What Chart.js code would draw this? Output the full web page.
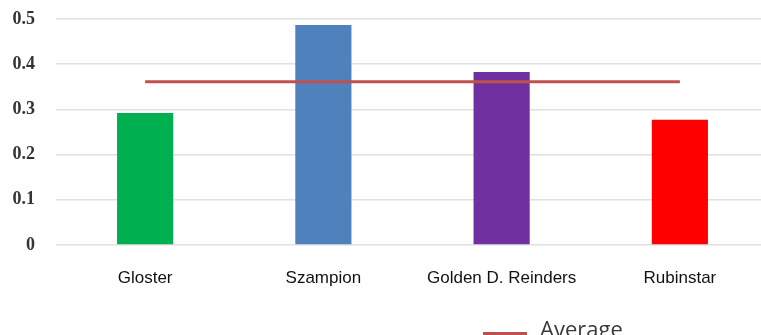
<!DOCTYPE html>
<html>
<head>
<meta charset="utf-8">
<script src="https://cdn.jsdelivr.net/npm/chart.js@4/dist/chart.umd.min.js"></script>
<style>
  html, body { margin: 0; padding: 0; background: #fff; }
  #wrap { position: relative; width: 761px; height: 335px; overflow: hidden; }
  #box { position: absolute; left: 0; top: 0; width: 769px; height: 335px; }
  #legend { position: absolute; left: 483px; top: 313px; font-family: "Open Sans", "Liberation Sans", sans-serif; font-size: 22px; color: #3a3a3a; white-space: nowrap; }
  #legend span.swatch { display: inline-block; width: 44px; height: 3px; background: #C0504D; vertical-align: middle; margin-right: 13px; position: relative; top: 2px; }
</style>
</head>
<body>
<div id="wrap">
  <div id="box"><canvas id="myChart"></canvas></div>
  <div id="legend"></div>
</div>
<script>
var categories = ['Gloster', 'Szampion', 'Golden D. Reinders', 'Rubinstar'];
var barValues = [0.292, 0.487, 0.383, 0.277];
var averageValues = [0.361, 0.361, 0.361, 0.361];
var yTicks = [0, 0.1, 0.2, 0.3, 0.4, 0.5];
var barColors = ['#00B050', '#4F81BD', '#7030A0', '#FF0000'];

var ctx = document.getElementById('myChart').getContext('2d');
var myChart = new Chart(ctx, {
    type: 'bar',
    data: {
        labels: categories,
        datasets: [{
            type: 'line',
            label: 'Average',
            data: averageValues,
            borderColor: '#C0504D',
            borderWidth: 3,
            pointRadius: 0,
            fill: false,
            order: 0
        }, {
            label: 'Value',
            data: barValues,
            backgroundColor: barColors,
            borderWidth: 0,
            barPercentage: 0.315,
            categoryPercentage: 1,
            order: 1
        }]
    },
    options: {
        responsive: true,
        maintainAspectRatio: false,
        animation: false,
        layout: { padding: { top: 19, bottom: 31.6, left: 0, right: 0 } },
        plugins: {
            legend: { display: false },
            tooltip: { enabled: false }
        },
        scales: {
            x: {
                grid: { display: false },
                border: { display: false },
                ticks: {
                    padding: 15,
                    color: '#111',
                    font: { family: 'Liberation Sans, sans-serif', size: 17 }
                }
            },
            y: {
                min: 0,
                max: 0.5,
                afterBuildTicks: function (scale) {
                    scale.ticks = yTicks.map(function (v) { return { value: v }; });
                },
                afterFit: function (scale) { scale.width = 56; },
                grid: { color: '#E0E0E0', lineWidth: 1.5, drawTicks: true, tickLength: 13, tickColor: 'rgba(0,0,0,0)' },
                border: { display: false },
                ticks: {
                    padding: 8,
                    color: '#333',
                    font: { family: 'Liberation Serif, serif', size: 18, weight: 'bold' },
                    callback: function (v) { return v === 0 ? '0' : v.toFixed(1); }
                }
            }
        }
    }
});

document.getElementById('legend').innerHTML =
    '<span class="swatch"></span>' + myChart.data.datasets[0].label;
</script>
</body>
</html>
